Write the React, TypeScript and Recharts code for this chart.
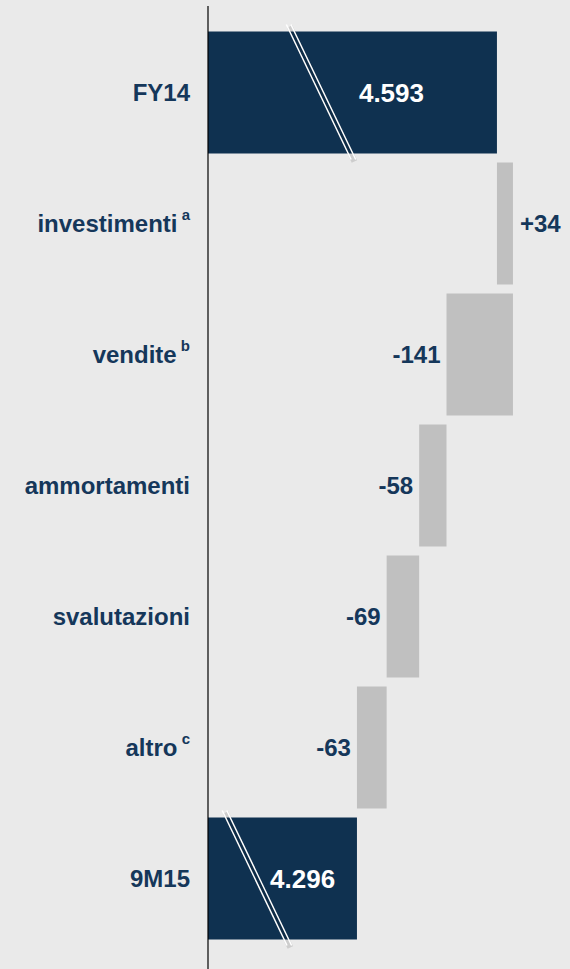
import React from 'react'
import { BarChart, Bar, XAxis, YAxis, LabelList } from 'recharts'

// voci del ponte FY14 -> 9M15
const categories = ['FY14', 'investimenti', 'vendite', 'ammortamenti', 'svalutazioni', 'altro', '9M15']
const notes = ['', 'a', 'b', '', '', 'c', '']
const kinds = ['total', 'delta', 'delta', 'delta', 'delta', 'delta', 'total']
const amounts = [4593, 34, -141, -58, -69, -63, 4296]
const valueLabels = ['4.593', '+34', '-141', '-58', '-69', '-63', '4.296']

const NAVY = '#0f3150'
const TEXT = '#15375a'
const GREY = '#c0c0c0'
const BG = '#eaeaea'

// build running totals: totals are plain values, deltas are [low, high] ranges
let running = 0
const data = categories.map((name, i) => {
  let span: number | [number, number]
  if (kinds[i] === 'total') {
    running = amounts[i]
    span = amounts[i]
  } else {
    const start = running
    running = running + amounts[i]
    span = [Math.min(start, running), Math.max(start, running)]
  }
  return { name, note: notes[i], kind: kinds[i], amount: amounts[i], label: valueLabels[i], span }
})

// where the axis-break mark sits on each total bar (fraction of bar width)
const breakAt: Record<string, number> = { FY14: 0.392, '9M15': 0.33 }

const CategoryTick = (props: any) => {
  const { x, y, payload } = props
  const note = notes[categories.indexOf(payload.value)]
  return (
    <text x={x} y={y} textAnchor="end" dominantBaseline="central" fill={TEXT}
      fontFamily="'Liberation Sans', Arial, sans-serif" fontWeight="bold" fontSize={24}>
      {payload.value}
      {note ? <tspan fontSize={15} dy={-9}>{' ' + note}</tspan> : null}
    </text>
  )
}

const WaterfallShape = (props: any) => {
  const { x, y, width, height, payload } = props
  if (payload.kind !== 'total') {
    return <rect x={x} y={y} width={width} height={height} fill={GREY} />
  }
  const f = breakAt[payload.name] ?? 0.35
  const mx = x + f * width
  const my = y + height / 2
  const top = height / 2 + 7
  const bot = height / 2 + 6
  const k = 0.48
  const line = (off: number, dy: number, stroke: string, w: number) => (
    <line x1={mx - k * top + off} y1={my - top + dy} x2={mx + k * bot + off} y2={my + bot + dy}
      stroke={stroke} strokeWidth={w} />
  )
  return (
    <g>
      <rect x={x} y={y} width={width} height={height} fill={NAVY} />
      {line(1, 2, 'rgba(0,0,0,0.12)', 6)}
      {line(-2.3, 0, '#ffffff', 1.5)}
      {line(2.3, 0, '#ffffff', 1.5)}
    </g>
  )
}

const ValueLabel = (props: any) => {
  const { x, y, width, height, index } = props
  const row = data[index]
  const cy = y + height / 2
  const font = { fontFamily: "'Liberation Sans', Arial, sans-serif", fontWeight: 'bold' as const }
  if (row.kind === 'total') {
    return (
      <text x={x + width * 0.635} y={cy} textAnchor="middle" dominantBaseline="central"
        fill="#ffffff" fontSize={26} {...font}>{row.label}</text>
    )
  }
  if (row.amount >= 0) {
    return (
      <text x={x + width + 7} y={cy} textAnchor="start" dominantBaseline="central"
        fill={TEXT} fontSize={24} {...font}>{row.label}</text>
    )
  }
  return (
    <text x={x - 6} y={cy} textAnchor="end" dominantBaseline="central"
      fill={TEXT} fontSize={24} {...font}>{row.label}</text>
  )
}

export default function App() {
  return (
    <div style={{ position: 'fixed', left: 0, top: 0, width: 570, height: 969, background: BG }}>
      <BarChart width={570} height={969} data={data} layout="vertical"
        margin={{ top: 6, right: 0, bottom: 0, left: 0 }} barSize={122}>
        <XAxis type="number" domain={[3980, 4748]} allowDataOverflow hide />
        <YAxis type="category" dataKey="name" width={208}
          padding={{ top: 20.5, bottom: 25.5 }}
          axisLine={{ stroke: '#000000', strokeWidth: 1.2 }}
          tickLine={false} tickSize={0} tickMargin={18}
          tick={<CategoryTick />} interval={0} />
        <Bar dataKey="span" shape={<WaterfallShape />} isAnimationActive={false}>
          <LabelList dataKey="label" content={<ValueLabel />} />
        </Bar>
      </BarChart>
    </div>
  )
}
